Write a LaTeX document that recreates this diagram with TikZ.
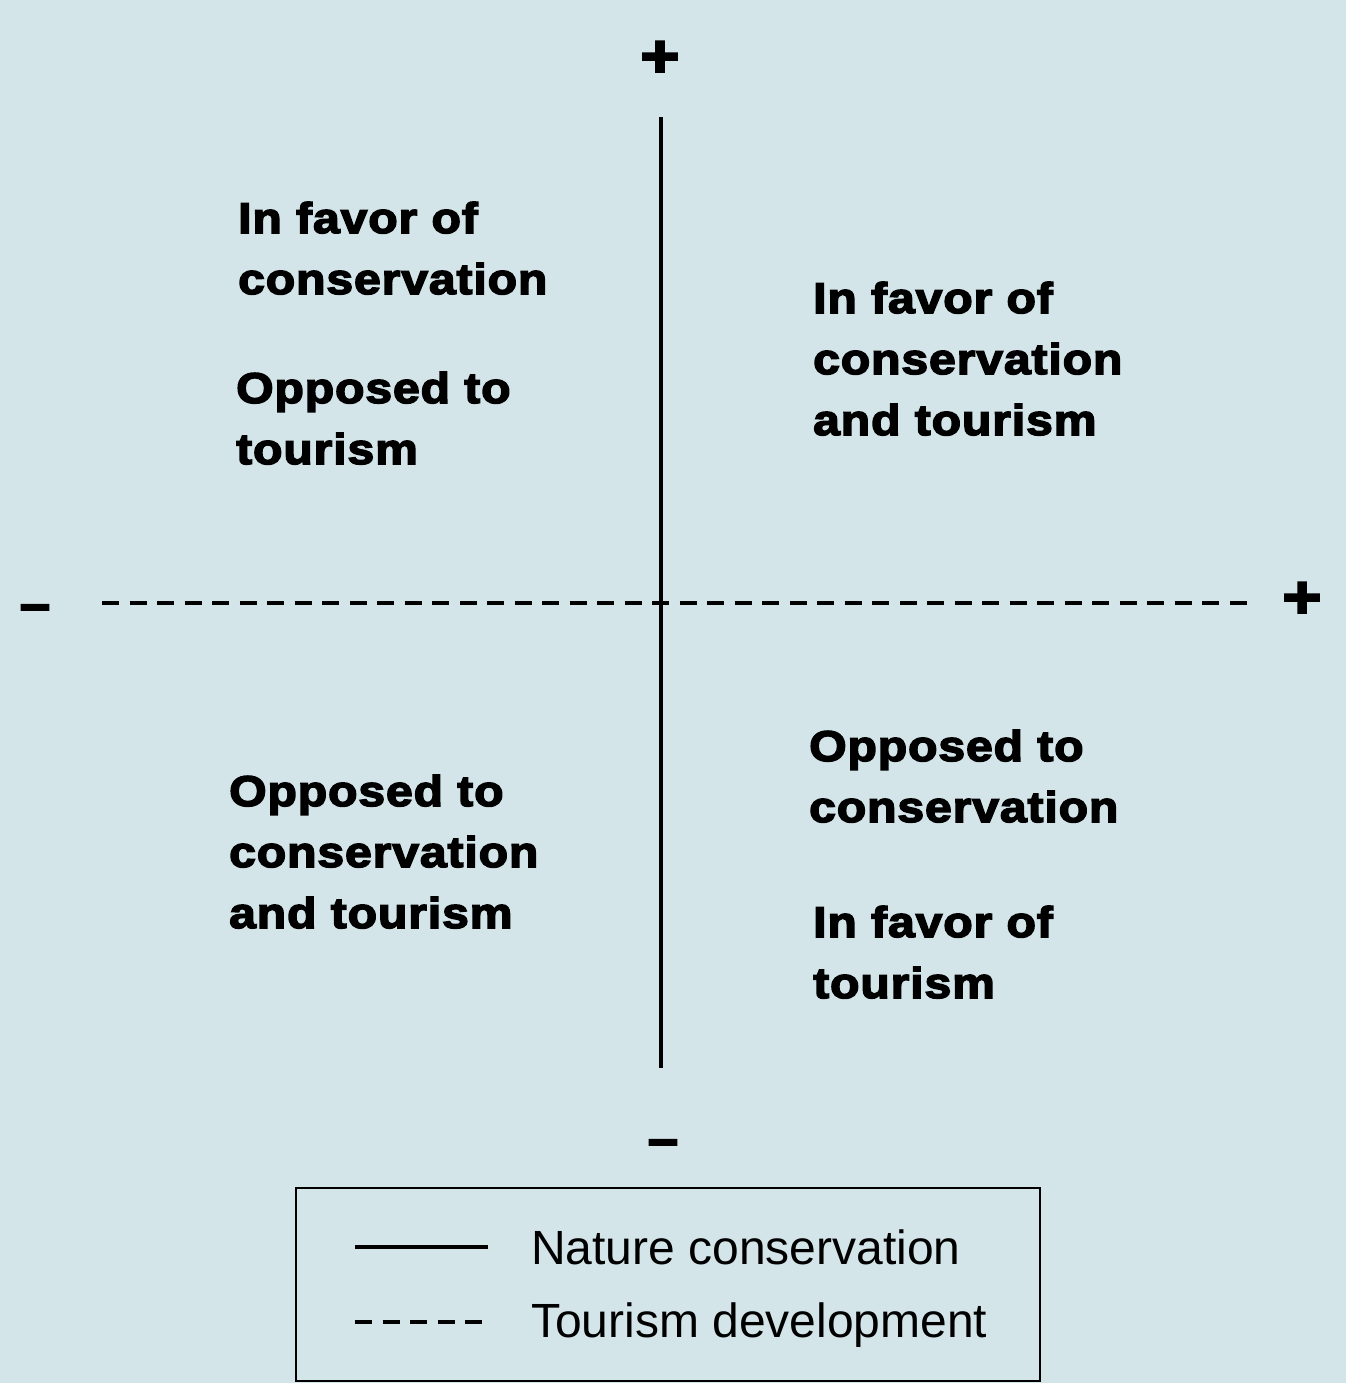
\documentclass[tikz,border=0pt]{standalone}
\usepackage{fontspec}
\setmainfont{Liberation Sans}
\newfontfamily\heavyfont[FakeBold=3.5,FakeStretch=1.12,LetterSpace=2]{Liberation Sans Bold}
\definecolor{bgblue}{HTML}{D4E5EA}
\tikzset{
  quad/.style={anchor=base west, align=left, inner sep=0pt,
    font=\heavyfont\fontsize{43}{61}\selectfont},
  sign/.style={inner sep=0pt, font=\heavyfont\fontsize{60}{60}\selectfont},
  minsign/.style={inner sep=0pt, font=\heavyfont\fontsize{48}{48}\selectfont},
  axisline/.style={line width=3.2pt},
  tourdash/.style={line width=3.2pt, dash pattern=on 17pt off 10.5pt},
  legtext/.style={anchor=base west, inner sep=0pt, font=\fontsize{48}{56}\selectfont}
}
\begin{document}
\begin{tikzpicture}[x=1pt, y=-1pt]
  % fond
  \fill[bgblue] (0,0) rectangle (1346,1383);
  \useasboundingbox (0,0) rectangle (1346,1383);

  % axes
  \coordinate (ctop) at (661,117);
  \coordinate (cbot) at (661,1068);
  \coordinate (tleft) at (102,603);
  \coordinate (tright) at (1250,603);
  \draw[axisline] (ctop) -- (cbot);
  \draw[tourdash] (tleft) -- (tright);

  % signes
  \node[sign] (plustop) at (660,59) {+};
  \node[minsign] (minusbot) at (663,1149) {−};
  \node[minsign] (minusleft) at (35,614) {−};
  \node[sign] (plusright) at (1302,600) {+};

  % quadrants (ancre sur la derniere ligne)
  \node[quad] (tlA) at (238,294) {In favor of\\conservation};
  \node[quad] (tlB) at (236,464) {Opposed to\\tourism};
  \node[quad] (trA) at (813,435) {In favor of\\conservation\\and tourism};
  \node[quad] (blA) at (229,928) {Opposed to\\conservation\\and tourism};
  \node[quad] (brA) at (809,822) {Opposed to\\conservation};
  \node[quad] (brB) at (813,998) {In favor of\\tourism};

  % legende
  \draw[line width=2pt] (296,1188) rectangle (1040,1381);
  \coordinate (solidA) at (355,1247);
  \coordinate (solidB) at (488,1247);
  \coordinate (dashA) at (355,1322);
  \coordinate (dashB) at (482,1322);
  \draw[axisline] (solidA) -- (solidB);
  \draw[tourdash] (dashA) -- (dashB);
  \node[legtext] (legcons) at (531,1264) {Nature conservation};
  \node[legtext] (legtour) at (531,1337) {Tourism development};
\end{tikzpicture}
\end{document}
